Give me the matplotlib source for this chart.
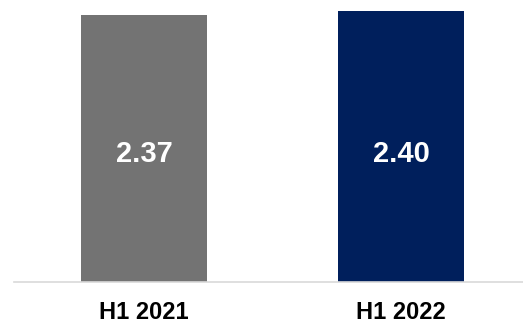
import matplotlib
matplotlib.use("Agg")
import matplotlib.pyplot as plt

# data
periods = ["H1 2021", "H1 2022"]
values = [2.37, 2.40]
bar_colors = ["#737373", "#001f5c"]

plt.rcParams["font.family"] = ["Liberation Sans", "DejaVu Sans"]

fig = plt.figure(figsize=(5.23, 3.23), dpi=100)
# axes spans from x=14px to the right edge, baseline at y=282px
ax = fig.add_axes([14 / 523, (323 - 282) / 323, 509 / 523, 282 / 323])

x = range(len(periods))
bars = ax.bar(x, values, width=0.49, color=bar_colors)

# value labels sit at the same height inside both bars
label_y = 1.06
for b, v in zip(bars, values):
    ax.text(b.get_x() + b.get_width() / 2, label_y, f"{v:.2f}",
            ha="center", va="baseline", color="white", fontsize=21, fontweight="bold")

ax.set_xlim(-0.506, 1.475)
ax.set_ylim(0, 2.5)
ax.set_xticks(list(x))
ax.set_xticklabels(periods, fontsize=17, fontweight="bold")
ax.tick_params(axis="x", length=0, pad=14)
ax.set_yticks([])
for s in ["top", "left", "right"]:
    ax.spines[s].set_visible(False)
ax.spines["bottom"].set_color("#d9d9d9")
ax.spines["bottom"].set_linewidth(1.2)

fig.savefig("out.png", dpi=100)
